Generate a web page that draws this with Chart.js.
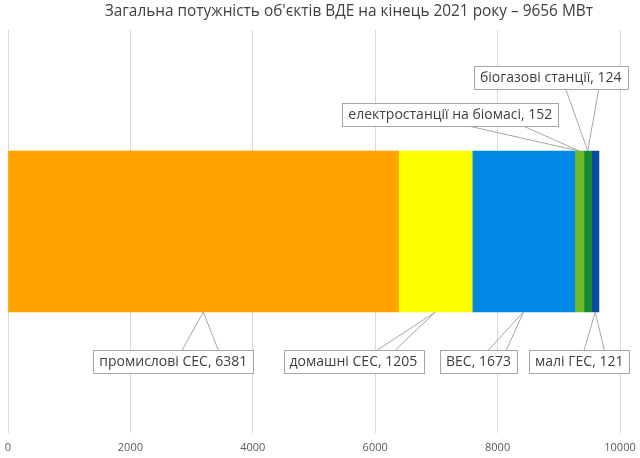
<!DOCTYPE html>
<html>
<head>
<meta charset="utf-8">
<script src="https://cdn.jsdelivr.net/npm/chart.js@4/dist/chart.umd.min.js"></script>
<style>
  body { margin: 0; background: #fff; }
  #wrap { width: 640px; height: 458px; }
</style>
</head>
<body>
<div id="wrap"><canvas id="myChart" width="640" height="458"></canvas></div>
<script>
var titleText = "Загальна потужність об'єктів ВДЕ на кінець 2021 року – 9656 МВт";
var categories = ['промислові СЕС', 'домашні СЕС', 'ВЕС', 'електростанції на біомасі', 'біогазові станції', 'малі ГЕС'];
var values = [6381, 1205, 1673, 152, 124, 121];
var colors = ['#FFA200', '#FFFF00', '#0088E6', '#6CB92A', '#168A2C', '#0B4EA0'];
var xTicks = [0, 2000, 4000, 6000, 8000, 10000];

// where each callout sits: side of bar, box centre offset from anchor, gap to bar, wedge base offsets
var callouts = [
  { side: 'bottom', dx: -30, gap: 38, base: [-21, 15] },
  { side: 'bottom', dx: -82, gap: 38, base: [-58, -40] },
  { side: 'bottom', dx: -45, gap: 38, base: [-35, -17] },
  { side: 'top', dx: -129, gap: 25, base: [-111, -56] },
  { side: 'top', dx: -37, gap: 62, base: [-22, 11] },
  { side: 'bottom', dx: -16, gap: 38, base: [-11, 9] }
];

var calloutPlugin = {
  id: 'callouts',
  afterDatasetsDraw: function(chart) {
    var ctx = chart.ctx;
    var xs = chart.scales.x;
    ctx.save();
    // title
    ctx.font = '15.4px "Open Sans"';
    ctx.fillStyle = '#404040';
    ctx.textAlign = 'center';
    ctx.textBaseline = 'middle';
    ctx.fillText(titleText, chart.width * 0.545, 12);

    ctx.font = '14px "Open Sans"';
    var start = 0;
    chart.data.datasets.forEach(function(ds, i) {
      var v = ds.data[0];
      var bar = chart.getDatasetMeta(i).data[0];
      var top = bar.y - bar.height / 2;
      var bottom = bar.y + bar.height / 2;
      var ax = xs.getPixelForValue(start + v / 2);
      start += v;
      var c = callouts[i];
      var txt = categories[i] + ', ' + v;
      var w = ctx.measureText(txt).width + 12;
      var h = 23;
      var ay, edge, by;
      if (c.side === 'bottom') {
        ay = bottom; edge = bottom + c.gap; by = edge;
      } else {
        ay = top; edge = top - c.gap; by = edge - h;
      }
      var bx = ax + c.dx - w / 2;
      ctx.strokeStyle = '#a6a6a6';
      ctx.lineWidth = 1;
      ctx.beginPath();
      ctx.moveTo(ax + c.base[0], edge);
      ctx.lineTo(ax, ay);
      ctx.lineTo(ax + c.base[1], edge);
      ctx.stroke();
      ctx.fillStyle = '#ffffff';
      ctx.fillRect(bx, by, w, h);
      ctx.strokeRect(Math.round(bx) + 0.5, Math.round(by) + 0.5, Math.round(w), h);
      ctx.fillStyle = '#404040';
      ctx.fillText(txt, bx + w / 2, by + h / 2 + 1);
    });
    ctx.restore();
  }
};

var datasets = categories.map(function(name, i) {
  return {
    label: name,
    data: [values[i]],
    backgroundColor: colors[i],
    borderWidth: 0,
    barThickness: 161
  };
});

new Chart(document.getElementById('myChart'), {
  type: 'bar',
  data: { labels: [''], datasets: datasets },
  options: {
    indexAxis: 'y',
    responsive: false,
    animation: false,
    layout: { padding: { top: 30, left: 0, right: 0, bottom: 0 } },
    scales: {
      x: {
        stacked: true,
        min: 0,
        max: 10000,
        afterBuildTicks: function(s) { s.ticks = xTicks.map(function(t) { return { value: t }; }); },
        afterFit: function(s) {
          s.height = 25;
          s.paddingLeft = 8;
          s.paddingRight = 20;
        },
        grid: { color: '#d9d9d9', drawTicks: false },
        border: { display: false },
        ticks: {
          color: '#595959',
          font: { family: 'Open Sans', size: 11 },
          padding: 8,
          callback: function(v) { return String(v); }
        }
      },
      y: { stacked: true, display: false }
    },
    plugins: {
      legend: { display: false },
      tooltip: { enabled: false }
    }
  },
  plugins: [calloutPlugin]
});
</script>
</body>
</html>
